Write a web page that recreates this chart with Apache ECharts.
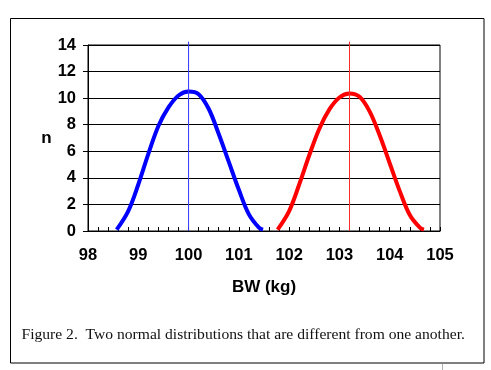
<!DOCTYPE html>
<html><head><meta charset="utf-8">
<script src="https://cdn.jsdelivr.net/npm/echarts@6/dist/echarts.min.js"></script>
<style>html,body{margin:0;padding:0;background:#fff;}#c{width:491px;height:370px;}</style>
</head><body><div id="c"></div>
<script>
// Data
const blueX = [98.57, 98.8, 99.0, 99.2, 99.4, 99.6, 99.8, 100.0, 100.2, 100.4, 100.6, 100.8, 101.0, 101.2, 101.4, 101.48];
const blueN = [0.1, 1.5, 3.5, 5.8, 7.9, 9.3, 10.2, 10.5, 10.3, 9.2, 7.3, 5.2, 3.1, 1.25, 0.25, 0.1];
const redX = [101.77, 102.0, 102.2, 102.4, 102.6, 102.8, 103.0, 103.2, 103.4, 103.6, 103.8, 104.0, 104.2, 104.4, 104.6, 104.68];
const redN = [0.1, 1.5, 3.5, 5.7, 7.7, 9.15, 10.05, 10.35, 10.1, 9.0, 7.2, 5.1, 3.0, 1.2, 0.25, 0.1];
const blueMean = 100.0;
const redMean = 103.2;
const meanLineTop = 14.25;
const xMin = 98, xMax = 105, xStep = 1;
const yMin = 0, yMax = 14, yStep = 2;
const xName = 'BW (kg)';
const yName = 'n';
const caption = 'Figure 2.  Two normal distributions that are different from one another.';

const zip = (xs, ys) => xs.map((x, i) => [x, ys[i]]);
const sansBold = { fontFamily: '"Liberation Sans", Arial, sans-serif', fontWeight: 'bold', color: '#000' };

const chart = echarts.init(document.getElementById('c'));
chart.setOption({
  animation: false,
  backgroundColor: '#fff',
  grid: { left: 88, top: 45, right: 51, bottom: 139, show: true, borderColor: '#000', borderWidth: 1, backgroundColor: 'transparent' },
  xAxis: {
    type: 'value', min: xMin, max: xMax, interval: xStep,
    name: xName, nameLocation: 'middle', nameGap: 48,
    nameTextStyle: Object.assign({ fontSize: 17 }, sansBold),
    axisLine: { show: true, lineStyle: { color: '#000', width: 1 } },
    axisTick: { show: true, inside: true, length: 4, lineStyle: { color: '#000' } },
    minorTick: { show: true, splitNumber: 5, length: 4, lineStyle: { color: '#000' } },
    axisLabel: Object.assign({ fontSize: 16.5, margin: 16 }, sansBold),
    splitLine: { show: false }
  },
  yAxis: {
    type: 'value', min: yMin, max: yMax, interval: yStep,
    name: yName, nameLocation: 'middle', nameRotate: 0, nameGap: 36,
    nameTextStyle: Object.assign({ fontSize: 17 }, sansBold),
    axisLine: { show: true, lineStyle: { color: '#000', width: 1 } },
    axisTick: { show: true, inside: false, length: 5, lineStyle: { color: '#000' } },
    axisLabel: Object.assign({ fontSize: 16.5, margin: 12 }, sansBold),
    splitLine: { show: true, lineStyle: { color: '#000', width: 1 } }
  },
  series: [
    { type: 'line', data: zip(blueX, blueN), smooth: 0.35, symbol: 'none', lineStyle: { color: '#0000ff', width: 4 }, z: 3 },
    { type: 'line', data: zip(redX, redN), smooth: 0.35, symbol: 'none', lineStyle: { color: '#ff0000', width: 4 }, z: 3 },
    { type: 'line', data: [[blueMean, 0], [blueMean, meanLineTop]], clip: false, symbol: 'none', lineStyle: { color: '#3535ff', width: 1 }, z: 4 },
    { type: 'line', data: [[redMean, 0], [redMean, meanLineTop]], clip: false, symbol: 'none', lineStyle: { color: '#ff2a2a', width: 1 }, z: 4 }
  ],
  graphic: [
    { type: 'rect', shape: { x: 10.5, y: 18.5, width: 473.5, height: 344.5 }, style: { fill: 'none', stroke: '#000', lineWidth: 1 }, silent: true },
    { type: 'line', shape: { x1: 442.5, y1: 364, x2: 442.5, y2: 370 }, style: { stroke: '#b0b0b0', lineWidth: 1 }, silent: true },
    { type: 'text', x: 21.5, y: 335, style: { text: caption, fontFamily: '"Liberation Serif", "Times New Roman", serif', fontSize: 15.6, fill: '#111', verticalAlign: 'middle', align: 'left' } }
  ]
});
</script></body></html>
